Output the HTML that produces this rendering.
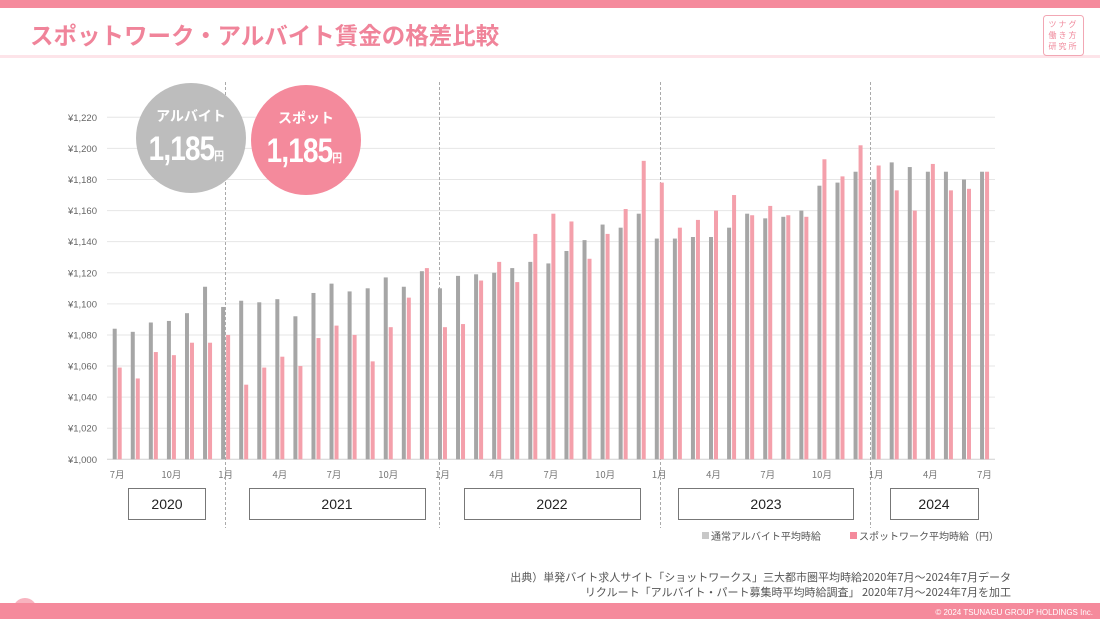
<!DOCTYPE html>
<html><head><meta charset="utf-8">
<style>
body{margin:0;width:1100px;height:619px;overflow:hidden;background:#fff;font-family:"Liberation Sans","Noto Sans CJK JP",sans-serif;}
svg{display:block}
</style></head><body>
<svg id="s" width="1100" height="619" xmlns="http://www.w3.org/2000/svg" font-family="Liberation Sans, Noto Sans CJK JP, sans-serif">
<rect x="0" y="0" width="1100" height="8" fill="#f58a9c"/>
<text x="30" y="44" font-size="23.5" font-weight="bold" fill="#f0849a" font-family="Noto Sans CJK JP, sans-serif">スポットワーク・アルバイト賃金の格差比較</text>
<rect x="0" y="55" width="1100" height="3" fill="#fde4e9"/>
<rect x="1043.5" y="15.5" width="40" height="40" rx="3" fill="none" stroke="#f2a7b4"/>
<text x="1063.5" y="27" font-size="8" fill="#f08a9c" text-anchor="middle" letter-spacing="2">ツナグ</text>
<text x="1063.5" y="38" font-size="8" fill="#f08a9c" text-anchor="middle" letter-spacing="2">働き方</text>
<text x="1063.5" y="49" font-size="8" fill="#f08a9c" text-anchor="middle" letter-spacing="2">研究所</text>
<g id="grid"></g>
<g id="bars"></g>
<circle cx="191" cy="138" r="55" fill="#bdbdbd"/>
<text x="191" y="121" font-size="14" font-weight="bold" fill="#fff" text-anchor="middle" font-family="Noto Sans CJK JP, sans-serif">アルバイト</text>
<g transform="translate(186,160) scale(0.82,1)"><text x="0" y="0" font-size="34" font-weight="bold" fill="#fff" text-anchor="middle" letter-spacing="-1">1,185<tspan font-size="12" font-family="Noto Sans CJK JP, sans-serif">円</tspan></text></g>
<circle cx="306" cy="140" r="55" fill="#f48a9c"/>
<text x="306" y="123" font-size="14" font-weight="bold" fill="#fff" text-anchor="middle" font-family="Noto Sans CJK JP, sans-serif">スポット</text>
<g transform="translate(304,162) scale(0.82,1)"><text x="0" y="0" font-size="34" font-weight="bold" fill="#fff" text-anchor="middle" letter-spacing="-1">1,185<tspan font-size="12" font-family="Noto Sans CJK JP, sans-serif">円</tspan></text></g>
<g fill="none" stroke="#777" stroke-width="1">
<rect x="128.5" y="488.5" width="77" height="31"/>
<rect x="249.5" y="488.5" width="176" height="31"/>
<rect x="464.5" y="488.5" width="176" height="31"/>
<rect x="678.5" y="488.5" width="175" height="31"/>
<rect x="890.5" y="488.5" width="88" height="31"/>
</g>
<g font-size="14" fill="#222" text-anchor="middle">
<text x="167" y="509">2020</text><text x="337" y="509">2021</text><text x="552" y="509">2022</text><text x="766" y="509">2023</text><text x="934" y="509">2024</text>
</g>
<g font-size="10" fill="#555" font-family="Noto Sans CJK JP, sans-serif">
<rect x="702" y="532" width="7" height="7" fill="#c8c8c8"/><text x="711" y="540">通常アルバイト平均時給</text>
<rect x="850" y="532" width="7" height="7" fill="#f48a9c"/><text x="859" y="540">スポットワーク平均時給（円）</text>
</g>
<g font-size="11" fill="#555" text-anchor="end" font-family="Noto Sans CJK JP, sans-serif">
<text x="1011" y="581">出典）単発バイト求人サイト「ショットワークス」三大都市圏平均時給2020年7月～2024年7月データ</text>
<text x="1011" y="596">リクルート「アルバイト・パート募集時平均時給調査」 2020年7月～2024年7月を加工</text>
</g>
<circle cx="25" cy="610" r="12" fill="#f8b3bf"/>
<rect x="0" y="603" width="1100" height="16" fill="#f58a9c"/>
<text x="1093" y="615" font-size="8" fill="#fff" text-anchor="end">© 2024 TSUNAGU GROUP HOLDINGS Inc.</text>
</svg>
<script>
var g=[1084,1082,1088,1089,1094,1111,1098,1102,1101,1103,1092,1107,1113,1108,1110,1117,1111,1121,1110,1118,1119,1120,1123,1127,1126,1134,1141,1151,1149,1158,1142,1142,1143,1143,1149,1150,1158,1155,1156,1160,1176,1178,1185,1180,1191,1188,1185,1185,1180,1185];
var p=[1059,1052,1069,1067,1075,1075,1080,1048,1059,1066,1060,1078,1086,1080,1063,1085,1104,1123,1085,1087,1115,1127,1114,1145,1158,1153,1129,1145,1161,1192,1178,1149,1154,1160,1170,1170,1157,1163,1157,1156,1193,1182,1202,1189,1173,1160,1190,1173,1174,1185];
g.splice(35,1);p.splice(35,1);
var ns="http://www.w3.org/2000/svg";
function el(t,a,par,txt){var e=document.createElementNS(ns,t);for(var k in a)e.setAttribute(k,a[k]);if(txt)e.textContent=txt;par.appendChild(e);return e;}
var grid=document.getElementById('grid'),bars=document.getElementById('bars');
function Y(v){return 459.3-(v-1000)*1.5545;}
for(var i=0;i<=11;i++){var v=1000+i*20,y=Y(v);
el('line',{x1:107,x2:995,y1:y,y2:y,stroke:i==0?'#d0d0d0':'#e6e6e6','stroke-width':1},grid);
el('text',{x:97,y:y+3.5,'font-size':9.5,fill:'#666','text-anchor':'end'},grid,'¥'+(v==1000?'1,000':'1,'+String(v).slice(1)));}
[225.5,439.5,660.5,870.5].forEach(function(x){el('line',{x1:x,x2:x,y1:82,y2:528,stroke:'#aaa','stroke-dasharray':'3,2','stroke-width':1},grid);});
for(var i=0;i<49;i++){var x=112.7+i*18.07;
el('rect',{x:x,y:Y(g[i]),width:4,height:459.3-Y(g[i]),fill:'#a6a6a6'},bars);
el('rect',{x:x+5,y:Y(p[i]),width:4,height:459.3-Y(p[i]),fill:'#f4a0ab'},bars);
var m=(6+i)%12+1; if(m%3==1){el('text',{x:x+4.5,y:478,'font-size':9.5,fill:'#777','text-anchor':'middle','font-family':'Noto Sans CJK JP, sans-serif'},bars,m+'月');}}
</script>
</body></html>
